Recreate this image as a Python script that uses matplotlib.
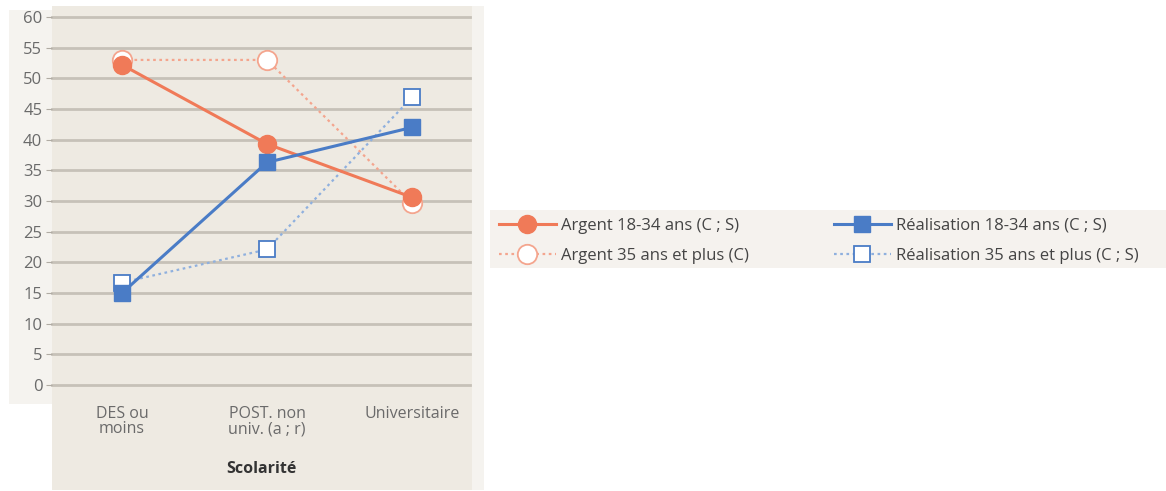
import matplotlib.pyplot as plt
from matplotlib.patches import Rectangle

plt.rcParams['font.family'] = ['Open Sans', 'DejaVu Sans']

# Données
categories = ["DES ou\nmoins", "POST. non\nuniv. (a ; r)", "Universitaire"]
argent_jeunes = [52.2, 39.3, 30.6]
argent_ages = [53.0, 53.0, 29.7]
realisation_jeunes = [15.0, 36.3, 42.0]
realisation_ages = [16.7, 22.1, 46.9]

orange = "#F07A58"
orange_clair = "#F4A58E"
bleu = "#4A7CC6"
bleu_clair = "#8FB0DE"
gris_texte = "#6A6A6A"

W, H = 1166, 491
fig = plt.figure(figsize=(W / 100, H / 100), dpi=100)

def px_rect(x0, y0, x1, y1, color):
    fig.patches.append(Rectangle((x0 / W, 1 - y1 / H), (x1 - x0) / W, (y1 - y0) / H,
                                 transform=fig.transFigure, facecolor=color,
                                 edgecolor="none", zorder=-1))

# fonds
px_rect(9, 10, 52, 404, "#F5F3EF")
px_rect(52, 6, 484, 490, "#F5F3EF")
px_rect(52, 6, 472, 490, "#EEEAE2")
px_rect(490, 210, 1166, 268, "#F5F2EE")

ax = fig.add_axes([52 / W, 1 - 385 / H, 418 / W, 368 / H])
ax.patch.set_alpha(0)
x = list(range(len(categories)))

ax.plot(x, argent_ages, color=orange_clair, lw=1.6, ls=(0, (1.2, 1.6)),
        marker="o", ms=14, mfc="white", mec=orange_clair, mew=1.3,
        label="Argent 35 ans et plus (C)", zorder=3, clip_on=False)
ax.plot(x, realisation_ages, color=bleu_clair, lw=1.6, ls=(0, (1.2, 1.6)),
        marker="s", ms=12, mfc="white", mec=bleu, mew=1.3,
        label="Réalisation 35 ans et plus (C ; S)", zorder=3, clip_on=False)
ax.plot(x, argent_jeunes, color=orange, lw=2.2, marker="o", ms=13,
        label="Argent 18-34 ans (C ; S)", zorder=4, clip_on=False)
ax.plot(x, realisation_jeunes, color=bleu, lw=2.2, marker="s", ms=12,
        label="Réalisation 18-34 ans (C ; S)", zorder=4, clip_on=False)

ax.set_ylim(0, 60)
ax.set_xlim(-0.483, 2.40)
ax.set_yticks(range(0, 61, 5))
ax.yaxis.grid(True, color="#C6C1B8", lw=2)
for g in ax.get_ygridlines():
    g.set_clip_on(False)
ax.set_axisbelow(True)
for s in ax.spines.values():
    s.set_visible(False)
ax.tick_params(axis="y", length=4, color="#B0ABA3", labelcolor=gris_texte,
               labelsize=12, pad=3)
ax.set_xticks(x)
ax.set_xticklabels(categories, linespacing=0.95)
ax.tick_params(axis="x", length=0, labelcolor=gris_texte, labelsize=11.5, pad=15)
ax.set_xlabel("Scolarité", fontsize=11.5, fontweight="bold", color="#333333",
              labelpad=17)

h, l = ax.get_legend_handles_labels()
# h: [argent_ages, realisation_ages, argent_jeunes, realisation_jeunes]
opts = dict(frameon=False, fontsize=12, handlelength=3.4, numpoints=1,
            labelspacing=0.85, handletextpad=0.3, borderaxespad=0, borderpad=0)
leg1 = fig.legend([h[2], h[0]], [l[2], l[0]], loc="upper left",
                  bbox_to_anchor=(499 / W, 1 - 218 / H), labelcolor="#444444", **opts)
leg2 = fig.legend([h[3], h[1]], [l[3], l[1]], loc="upper left",
                  bbox_to_anchor=(834 / W, 1 - 218 / H), labelcolor="#444444", **opts)

fig.savefig("out.png", dpi=100)
